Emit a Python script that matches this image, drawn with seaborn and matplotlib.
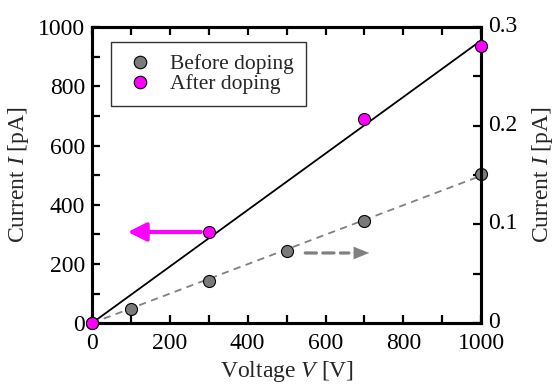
import numpy as np
import pandas as pd
import matplotlib
matplotlib.use("Agg")
import matplotlib.pyplot as plt
from matplotlib.lines import Line2D
from matplotlib.ticker import MultipleLocator
import matplotlib.transforms as mtransforms
import seaborn as sns

# data
voltage_before = [0, 100, 300, 500, 700, 1000]
current_before = [0, 0.0142, 0.0427, 0.0732, 0.1037, 0.1515]   # right axis
voltage_after = [0, 300, 700, 1000]
current_after = [0, 308, 688, 935]                               # left axis

sns.set_style("ticks")
plt.rcParams['font.family'] = ['Liberation Serif', 'DejaVu Serif']
plt.rcParams['mathtext.fontset'] = 'custom'
plt.rcParams['mathtext.rm'] = 'Liberation Serif'
plt.rcParams['mathtext.it'] = 'Liberation Serif:italic'

before = pd.DataFrame({'V': voltage_before, 'I': current_before})
after = pd.DataFrame({'V': voltage_after, 'I': current_after})

fig = plt.figure(figsize=(5.57, 3.87), dpi=100)
ax = fig.add_axes([0.165, 0.165, 0.699, 0.765])
ax2 = ax.twinx()

# fitted lines through origin
k_a = np.dot(voltage_after, current_after) / np.dot(voltage_after, voltage_after)
k_b = np.dot(voltage_before, current_before) / np.dot(voltage_before, voltage_before)
xs = np.array([0, 1000])

sns.lineplot(x=xs, y=k_b * xs, ax=ax2, color='gray', lw=1.3, ls=(0, (4, 3)))
sns.scatterplot(data=before, x='V', y='I', ax=ax2, color='#7a7a7a', s=75,
                edgecolor='black', linewidth=0.8, clip_on=False, zorder=5)

sns.lineplot(x=xs, y=k_a * xs, ax=ax, color='black', lw=1.3)
sns.scatterplot(data=after, x='V', y='I', ax=ax, color='#ff00ff', s=75,
                edgecolor='black', linewidth=0.8, clip_on=False, zorder=5)

ax.set_zorder(ax2.get_zorder() + 1)
ax.patch.set_visible(False)

# arrows
ax.annotate('', xy=(92, 308), xytext=(280, 308),
            arrowprops=dict(arrowstyle='-|>,head_length=1.1,head_width=0.55',
                            color='#ff00ff', lw=3.0, shrinkA=0, shrinkB=0))
ax.annotate('', xy=(660, 237), xytext=(548, 237),
            arrowprops=dict(arrowstyle='-', color='gray', lw=2.3,
                            ls=(0, (3.5, 2)), shrinkA=0, shrinkB=0))
ax.annotate('', xy=(712, 237), xytext=(664, 237),
            arrowprops=dict(arrowstyle='-|>,head_length=1.1,head_width=0.45',
                            color='gray', lw=0.1, shrinkA=0, shrinkB=0))

ax.set_xlim(0, 1000)
ax.set_ylim(0, 1000)
ax2.set_ylim(0, 0.3)
ax.xaxis.set_major_locator(MultipleLocator(200))
ax.xaxis.set_minor_locator(MultipleLocator(100))
ax.yaxis.set_major_locator(MultipleLocator(200))
ax.yaxis.set_minor_locator(MultipleLocator(100))
ax2.set_yticks([0, 0.1, 0.2, 0.3])
ax2.set_yticklabels(['0', '0.1', '0.2', '0.3'])
ax2.yaxis.set_minor_locator(MultipleLocator(0.05))

for a in (ax, ax2):
    for s in a.spines.values():
        s.set_linewidth(2.2)
        s.set_color('black')
    a.tick_params(which='both', direction='in', length=6, width=1.6,
                  labelsize=17, pad=5, colors='black')

ax.tick_params(which='both', top=True, right=False)
ax.tick_params(axis='x', pad=7)
ax2.tick_params(which='both', right=True, left=False)

# nudge right-axis labels up a little, as in the reference
shift = mtransforms.ScaledTranslation(0, 3 / 100, fig.dpi_scale_trans)
for lbl in ax2.get_yticklabels():
    lbl.set_transform(lbl.get_transform() + shift)

ax.set_xlabel('Voltage $\\it{V}$ [V]', fontsize=17, labelpad=4)
ax.set_ylabel('Current $\\it{I}$ [pA]', fontsize=17, labelpad=5)
ax2.set_ylabel('Current $\\it{I}$ [pA]', fontsize=17, rotation=90, labelpad=9)

handles = [
    Line2D([], [], ls='none', marker='o', ms=9, mfc='#7a7a7a', mec='black', mew=0.8),
    Line2D([], [], ls='none', marker='o', ms=9, mfc='#ff00ff', mec='black', mew=0.8),
]
leg = ax.legend(handles, ['Before doping', 'After doping'], loc='upper left',
                bbox_to_anchor=(0.049, 0.949), borderaxespad=0, fontsize=15.5,
                frameon=True, fancybox=False, handletextpad=0.6,
                labelspacing=0.0, handlelength=1.6, borderpad=0.55)
leg.get_frame().set_edgecolor('black')
leg.get_frame().set_linewidth(1.0)

fig.savefig('out.png', dpi=100)
